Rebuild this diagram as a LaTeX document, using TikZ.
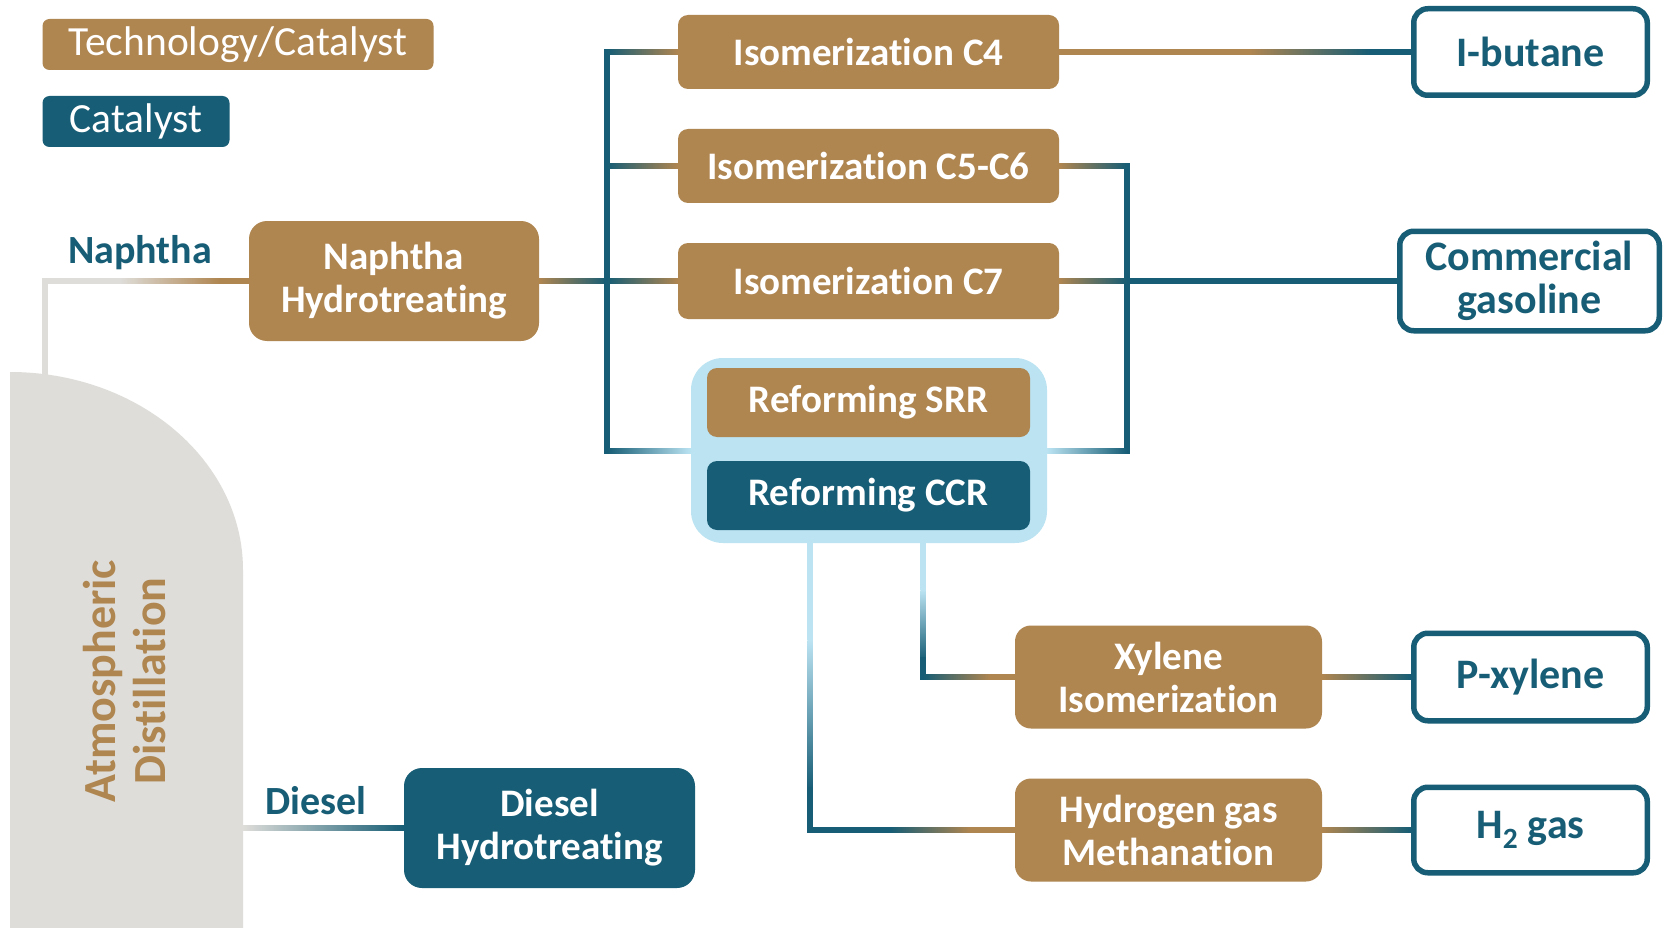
\documentclass[tikz,border=0pt]{standalone}
\usepackage{fontspec}
\setmainfont{Carlito}[Ligatures={NoCommon,NoContextual}]
\usetikzlibrary{calc,backgrounds}
\definecolor{tanc}{HTML}{AF8550}
\definecolor{tealc}{HTML}{165D75}
\definecolor{lblue}{HTML}{BBE3F2}
\definecolor{colgray}{HTML}{DEDDD9}
\newcommand{\hgr}[4]{\shade[left color=#3,right color=#4] ($#1+(0,-2.75)$) rectangle ($#2+(0,2.75)$);}
\newcommand{\vgr}[4]{\shade[top color=#3,bottom color=#4] ($#1+(-2.75,0)$) rectangle ($#2+(2.75,0)$);}
\begin{document}
\begin{tikzpicture}[x=1pt,y=-1pt,
  tanbox/.style={fill=tanc, text=white, font=\bfseries\fontsize{39}{43}\selectfont, align=center, rounded corners=10, inner sep=0pt},
  tealbox/.style={fill=tealc, text=white, font=\bfseries\fontsize{39}{43}\selectfont, align=center, rounded corners=10, inner sep=0pt},
  outbox/.style={draw=tealc, line width=5.5, fill=white, text=tealc, font=\bfseries\fontsize{42}{43}\selectfont, align=center, rounded corners=14, inner sep=0pt},
  lbl/.style={text=tealc, font=\bfseries\fontsize{40}{43}\selectfont, inner sep=0pt},
  conn/.style={line width=5.5},
]
\useasboundingbox (0,0) rectangle (1667,928);
% legend
\node[fill=tanc, text=white, font=\fontsize{41.5}{44}\selectfont, rounded corners=7, minimum width=391, minimum height=51, inner sep=0pt] (leg1) at (238,44.5) {Technology/Catalyst};
\node[fill=tealc, text=white, font=\fontsize{41.5}{44}\selectfont, rounded corners=7, minimum width=187, minimum height=51, inner sep=0pt] (leg2) at (136,121.5) {Catalyst};
% labels
\node[lbl] (lnaph) at (140,253) {Naphtha};
\node[lbl] (ldies) at (316,801) {Diesel};
% column text
\node[rotate=90, text=tanc, font=\bfseries\fontsize{46}{50}\selectfont, align=center, inner sep=0pt] (adist) at (125,681) {Atmospheric\\Distillation};
% process boxes
\node[tanbox, rounded corners=18, minimum width=290, minimum height=120] (nh) at (394,281) {Naphtha\\Hydrotreating};
\node[tealbox, rounded corners=18, minimum width=291, minimum height=120] (dh) at (549.5,828) {Diesel\\Hydrotreating};
\node[tanbox, minimum width=381, minimum height=74] (iso4) at (868.5,52) {Isomerization C4};
\node[tanbox, minimum width=381, minimum height=74] (iso56) at (868.5,166) {Isomerization C5-C6};
\node[tanbox, minimum width=381, minimum height=76] (iso7) at (868.5,281) {Isomerization C7};
\node[fill=lblue, rounded corners=32, minimum width=356, minimum height=185, inner sep=0pt] (cont) at (869,450.5) {};
\node[tanbox, minimum width=323, minimum height=69] (srr) at (868.5,402.5) {Reforming SRR};
\node[tealbox, minimum width=323, minimum height=69] (ccr) at (868.5,495.5) {Reforming CCR};
\node[tanbox, rounded corners=16, minimum width=307, minimum height=103] (xi) at (1168.5,677) {Xylene\\Isomerization};
\node[tanbox, rounded corners=16, minimum width=307, minimum height=103] (hgm) at (1168.5,830) {Hydrogen gas\\Methanation};
% outputs
\node[outbox, minimum width=233.5, minimum height=86.5] (ibut) at (1530.5,52) {I-butane};
\node[outbox, minimum width=259.5, minimum height=99.5] (gas) at (1529.5,281) {Commercial\\gasoline};
\node[outbox, minimum width=233.5, minimum height=87.5] (px) at (1530.5,677) {P-xylene};
\node[outbox, minimum width=233.5, minimum height=85.5] (h2) at (1530.5,830) {H\textsubscript{2} gas};
% coordinates
\coordinate (coltop) at (45,380);
\coordinate (naphc) at (45,281);
\coordinate (g1) at (120,281);
\coordinate (g2) at (220,281);
\coordinate (dcol) at (243,828);
\coordinate (busT) at (607,52);
\coordinate (busC) at (607,166);
\coordinate (busM) at (607,281);
\coordinate (busB) at (607,451);
\coordinate (rbT) at (1127,166);
\coordinate (rbM) at (1127,281);
\coordinate (rbB) at (1127,451);
\coordinate (i4a) at (1250,52);
\coordinate (i4b) at (1370,52);
\coordinate (c1t) at (810,540);
\coordinate (c1a) at (810,640);
\coordinate (c1b) at (810,790);
\coordinate (c1c) at (810,830);
\coordinate (c1d) at (890,830);
\coordinate (c1e) at (970,830);
\coordinate (c2t) at (923,540);
\coordinate (c2a) at (923,590);
\coordinate (c2b) at (923,660);
\coordinate (c2c) at (923,677);
\coordinate (c2d) at (990,677);
\begin{scope}[on background layer]
\fill[white] (0,0) rectangle (1667,928);
% distillation column
\fill[colgray] (10,928) -- (10,372) arc[start angle=-90, end angle=0, x radius=233, y radius=198] -- (243,928) -- cycle;
% naphtha feed
\draw[conn, colgray, line cap=rect] (coltop) -- (naphc);
\draw[conn, colgray] (naphc) -- (g1);
\hgr{(g1)}{(g2)}{colgray}{tanc}
\draw[conn, tanc] (g2) -- (nh.west);
% diesel feed
\hgr{(dcol)}{(dh.west)}{colgray}{tealc}
% left bus
\hgr{(nh.east)}{(busM)}{tanc}{tealc}
\draw[conn, tealc, line cap=rect] (busT) -- (busB);
\hgr{(busT)}{(iso4.west)}{tealc}{tanc}
\hgr{(busC)}{(iso56.west)}{tealc}{tanc}
\hgr{(busM)}{(iso7.west)}{tealc}{tanc}
\hgr{(busB)}{(cont.west |- busB)}{tealc}{lblue}
% right bus
\draw[conn, tealc, line cap=rect] (rbT) -- (rbB);
\hgr{(iso56.east)}{(rbT)}{tanc}{tealc}
\hgr{(iso7.east)}{(rbM)}{tanc}{tealc}
\hgr{(cont.east |- rbB)}{(rbB)}{lblue}{tealc}
\draw[conn, tealc] (rbM) -- (gas.west);
% isomerization C4 to I-butane
\draw[conn, tanc] (iso4.east) -- (i4a);
\hgr{(i4a)}{(i4b)}{tanc}{tealc}
\draw[conn, tealc] (i4b) -- (ibut.west);
% reforming to hydrogen gas methanation
\draw[conn, lblue] (c1t) -- (c1a);
\vgr{(c1a)}{(c1b)}{lblue}{tealc}
\draw[conn, tealc, line cap=rect] (c1b) -- (c1c);
\draw[conn, tealc] (c1c) -- (c1d);
\hgr{(c1d)}{(c1e)}{tealc}{tanc}
\draw[conn, tanc] (c1e) -- (hgm.west);
% reforming to xylene isomerization
\draw[conn, lblue] (c2t) -- (c2a);
\vgr{(c2a)}{(c2b)}{lblue}{tealc}
\draw[conn, tealc, line cap=rect] (c2b) -- (c2c);
\hgr{(c2c)}{(c2d)}{tealc}{tanc}
\draw[conn, tanc] (c2d) -- (xi.west);
% products
\hgr{(xi.east)}{(px.west)}{tanc}{tealc}
\hgr{(hgm.east)}{(h2.west)}{tanc}{tealc}
\end{scope}
\end{tikzpicture}
\end{document}
